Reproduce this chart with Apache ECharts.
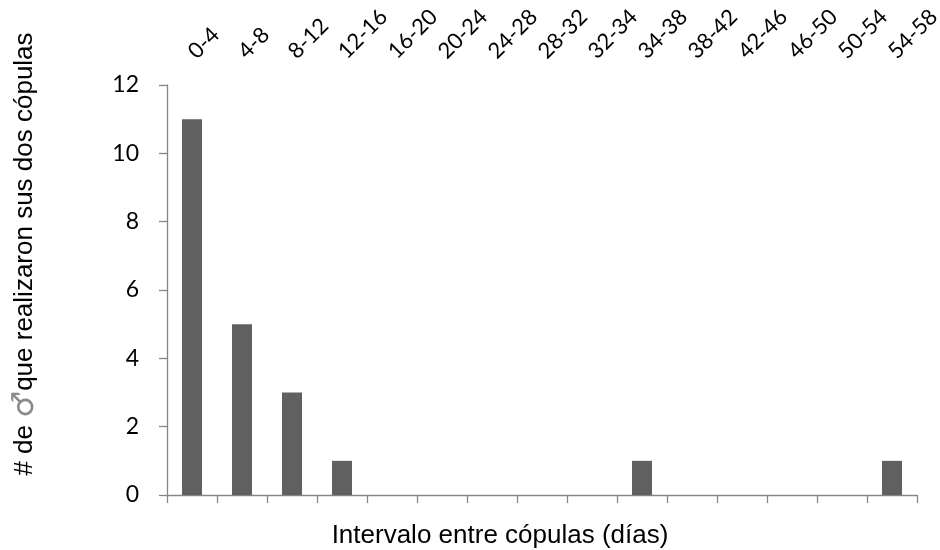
<!DOCTYPE html>
<html>
<head>
<meta charset="utf-8">
<script src="https://cdn.jsdelivr.net/npm/echarts@6/dist/echarts.min.js"></script>
<style>html,body{margin:0;padding:0;background:#fff}#c{width:940px;height:550px}</style>
</head>
<body>
<div id="c"></div>
<script>
const categories = ['0-4','4-8','8-12','12-16','16-20','20-24','24-28','28-32','32-34','34-38','38-42','42-46','46-50','50-54','54-58'];
const values = [11,5,3,1,0,0,0,0,0,1,0,0,0,0,1];
const yTicks = {min:0, max:12, interval:2};
const xTitle = 'Intervalo entre cópulas (días)';
const yTitleParts = ['# de ', '♂', 'que realizaron sus dos cópulas'];

const chart = echarts.init(document.getElementById('c'), null, {renderer:'canvas'});
const axisGray = '#868686';
const titleFont = '"Liberation Sans", Arial, sans-serif';
chart.setOption({
  animation:false,
  grid:{left:167, right:23, top:85, bottom:55, containLabel:false, outerBoundsMode:'none'},
  xAxis:[{
    type:'category', data:categories, position:'bottom',
    axisLine:{show:true, lineStyle:{color:axisGray, width:1.3}},
    axisTick:{show:true, length:8, lineStyle:{color:axisGray, width:1.3}},
    axisLabel:{show:false},
    splitLine:{show:false}
  },{
    type:'category', data:categories, position:'top',
    axisLine:{show:false}, axisTick:{show:false},
    axisLabel:{show:true, interval:0, rotate:-45, margin:30, color:'#000', fontFamily:'Lato', fontSize:22},
    splitLine:{show:false}
  }],
  yAxis:{
    type:'value', min:yTicks.min, max:yTicks.max, interval:yTicks.interval,
    axisLine:{show:true, lineStyle:{color:axisGray, width:1.3}},
    axisTick:{show:true, length:8, lineStyle:{color:axisGray, width:1.3}},
    axisLabel:{color:'#000', fontFamily:'Lato', fontSize:23, margin:28},
    splitLine:{show:false}
  },
  graphic:[
    {type:'text', style:{text:xTitle, x:500, y:536, align:'center', verticalAlign:'middle', fontFamily:titleFont, fontSize:26, fill:'#000'}},
    {type:'text', x:25, y:254, rotation:Math.PI/2, style:{
      text:'{a|' + yTitleParts[0] + '}{m|' + yTitleParts[1] + '}{a|' + yTitleParts[2] + '}',
      x:0, y:0, align:'center', verticalAlign:'middle', fill:'#000',
      rich:{
        a:{fontFamily:titleFont, fontSize:26, fill:'#000'},
        m:{fontFamily:'"DejaVu Sans"', fontSize:30, fill:'#8a8a8a'}
      }
    }}
  ],
  series:[{
    type:'bar', data:values, xAxisIndex:0, barWidth:20,
    itemStyle:{color:'#606060'}
  }]
});
</script>
</body>
</html>
